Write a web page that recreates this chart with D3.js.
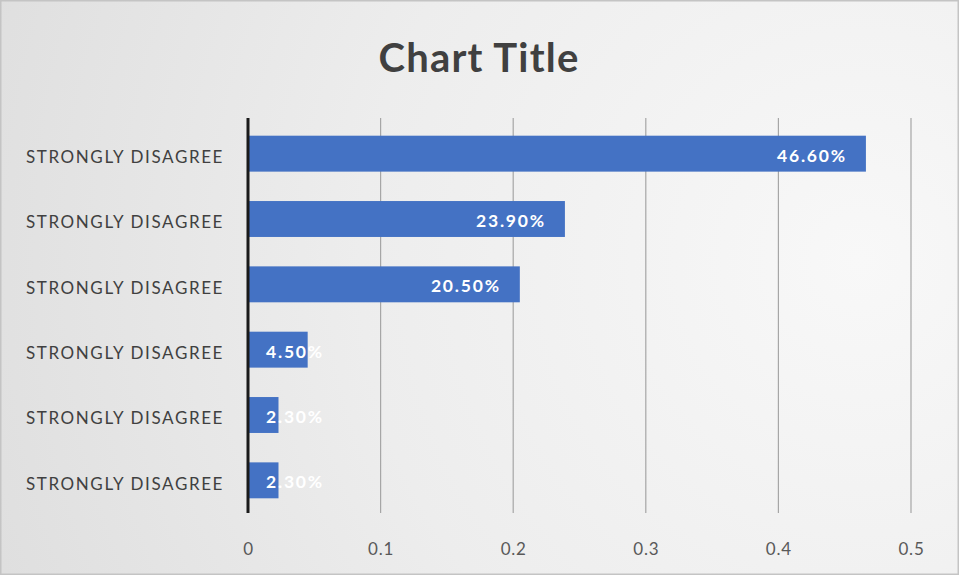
<!DOCTYPE html>
<html>
<head>
<meta charset="utf-8">
<script src="https://cdn.jsdelivr.net/npm/d3@7/dist/d3.min.js"></script>
<style>
  html, body { margin: 0; padding: 0; background: #fff; }
  svg { display: block; }
</style>
</head>
<body>
<svg id="chart" width="959" height="575"></svg>
<script>
// Chart data
const categories = [
  "STRONGLY DISAGREE", "STRONGLY DISAGREE", "STRONGLY DISAGREE",
  "STRONGLY DISAGREE", "STRONGLY DISAGREE", "STRONGLY DISAGREE"
];
const values = [0.466, 0.239, 0.205, 0.045, 0.023, 0.023];
const valueLabels = ["46.60%", "23.90%", "20.50%", "4.50%", "2.30%", "2.30%"];
const xTicks = [0, 0.1, 0.2, 0.3, 0.4, 0.5];
const titleText = "Chart Title";

const W = 959, H = 575;
const margin = { left: 248, right: 48, top: 121, bottom: 62 };
const svg = d3.select("#chart");
const font = "Lato, 'Open Sans', 'Liberation Sans', sans-serif";

// Background with soft gray gradient and thin border
const defs = svg.append("defs");
const grad = defs.append("radialGradient")
  .attr("id", "bg").attr("gradientUnits", "userSpaceOnUse")
  .attr("cx", 860).attr("cy", 260).attr("r", 1000);
grad.append("stop").attr("offset", "0").attr("stop-color", "#f8f8f8");
grad.append("stop").attr("offset", "0.5").attr("stop-color", "#ededed");
grad.append("stop").attr("offset", "1").attr("stop-color", "#dcdcdc");
svg.append("rect").attr("x", 0.5).attr("y", 0.5)
  .attr("width", W - 1).attr("height", H - 1)
  .attr("fill", "url(#bg)").attr("stroke", "#c4c4c4").attr("stroke-width", 2);

const x = d3.scaleLinear().domain([0, 0.5]).range([margin.left, W - margin.right]);
const y = d3.scaleBand()
  .domain(d3.range(categories.length))
  .range([margin.top, H - margin.bottom])
  .paddingInner(0.45).paddingOuter(0.225);

// Title
svg.append("text")
  .attr("x", 479).attr("y", 72)
  .attr("text-anchor", "middle")
  .attr("font-family", font).attr("font-weight", "bold")
  .attr("font-size", 40).attr("letter-spacing", 1.2).attr("fill", "#404040")
  .text(titleText);

// Vertical gridlines
svg.append("g").selectAll("line")
  .data(xTicks.filter(d => d > 0))
  .join("line")
  .attr("x1", d => x(d)).attr("x2", d => x(d))
  .attr("y1", margin.top - 3).attr("y2", H - margin.bottom)
  .attr("stroke", "#a6a6a6").attr("stroke-width", 1.2);

// X axis tick labels
const xAxis = d3.axisBottom(x).tickValues(xTicks).tickSize(0)
  .tickFormat(d => d === 0 ? "0" : d3.format(".1f")(d));
const gx = svg.append("g")
  .attr("transform", `translate(0,${H - margin.bottom})`)
  .call(xAxis);
gx.select(".domain").remove();
gx.selectAll("text")
  .attr("dy", 0).attr("y", 42)
  .attr("font-family", font).attr("font-size", 17).attr("letter-spacing", 0.8)
  .attr("fill", "#595959");

// Bars
svg.append("g").selectAll("rect")
  .data(values)
  .join("rect")
  .attr("x", x(0))
  .attr("y", (d, i) => y(i))
  .attr("width", d => x(d) - x(0))
  .attr("height", y.bandwidth())
  .attr("fill", "#4472C4");

// Category axis
const yAxis = d3.axisLeft(y).tickSize(0).tickFormat(i => categories[i]);
const gy = svg.append("g")
  .attr("transform", `translate(${x(0)},0)`)
  .call(yAxis);
gy.select(".domain").remove();
gy.selectAll("text")
  .attr("x", -24).attr("y", 4)
  .attr("font-family", font).attr("font-size", 17).attr("letter-spacing", 1.6)
  .attr("fill", "#404040");

// Zero axis line
svg.append("line")
  .attr("x1", x(0)).attr("x2", x(0))
  .attr("y1", margin.top - 3).attr("y2", H - margin.bottom)
  .attr("stroke", "#1a1a1a").attr("stroke-width", 3);

// Value labels at the inside end of each bar
const lbl = svg.append("g").selectAll("text")
  .data(values)
  .join("text")
  .attr("y", (d, i) => y(i) + y.bandwidth() / 2 + 2)
  .attr("dy", "0.35em")
  .attr("font-family", font).attr("font-weight", "bold")
  .attr("font-size", 17.5).attr("letter-spacing", 1.8).attr("fill", "#ffffff")
  .text((d, i) => valueLabels[i]);
lbl.each(function(d) {
  const w = this.getComputedTextLength();
  const start = Math.max(x(0) + 18, x(d) - 19 - w);
  d3.select(this).attr("x", start);
});
</script>
</body>
</html>
